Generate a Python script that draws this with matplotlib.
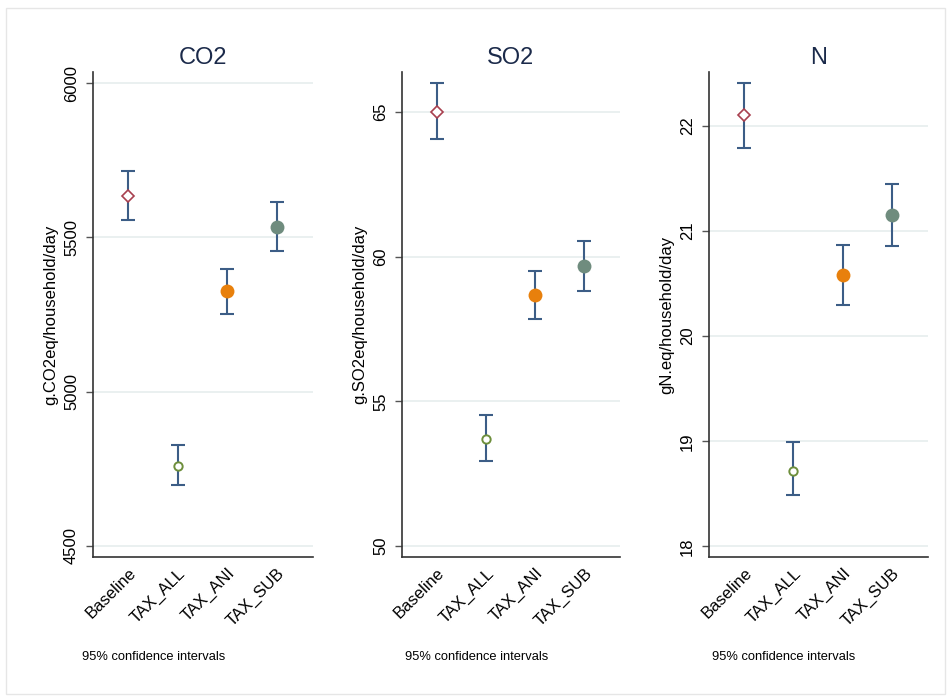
import matplotlib
matplotlib.use("Agg")
import matplotlib.pyplot as plt
from matplotlib.patches import Rectangle

plt.rcParams['font.family'] = ['Liberation Sans', 'DejaVu Sans']

categories = ["Baseline", "TAX_ALL", "TAX_ANI", "TAX_SUB"]

titles = ["CO2", "SO2", "N"]
ylabels = ["g.CO2eq/household/day", "g.SO2eq/household/day", "gN.eq/household/day"]

co2_mean = [5635, 4760, 5326, 5534]
co2_low = [5555, 4697, 5251, 5456]
co2_high = [5715, 4827, 5397, 5614]

so2_mean = [65.0, 53.7, 58.66, 59.66]
so2_low = [64.05, 52.95, 57.83, 58.8]
so2_high = [66.0, 54.52, 59.52, 60.55]

n_mean = [22.10, 18.72, 20.58, 21.15]
n_low = [21.79, 18.49, 20.30, 20.86]
n_high = [22.41, 18.99, 20.87, 21.45]

yticks_list = [[4500, 5000, 5500, 6000], [50, 55, 60, 65], [18, 19, 20, 21, 22]]
ylims = [(4464, 6036), (49.62, 66.38), (17.9, 22.51)]

note = "95% confidence intervals"

means = [co2_mean, so2_mean, n_mean]
lows = [co2_low, so2_low, n_low]
highs = [co2_high, so2_high, n_high]

marker_styles = [
    dict(marker="D", ms=6.5, mfc="white", mec="#a8404f", mew=1.2),
    dict(marker="o", ms=6, mfc="white", mec="#6e8f3c", mew=1.4),
    dict(marker="o", ms=10, mfc="#e8800c", mec="#e8800c", mew=0),
    dict(marker="o", ms=10, mfc="#6f8c7e", mec="#6f8c7e", mew=0),
]
err_color = "#3c5d86"
title_color = "#1b2a4a"

fig = plt.figure(figsize=(9.51, 6.98), dpi=100)
fig.patch.set_facecolor("white")
fig.add_artist(Rectangle((0.006, 0.006), 0.988, 0.983, transform=fig.transFigure,
                         fill=False, edgecolor="#e6e6e6", lw=1))

lefts = [93, 402, 709]
widths = [220, 218, 219]
note_x = [82, 405, 712]
top_px, bot_px = 72, 557
W, H = 951, 698

for i in range(3):
    ax = fig.add_axes([lefts[i] / W, 1 - bot_px / H, widths[i] / W, (bot_px - top_px) / H])
    xs = list(range(1, len(categories) + 1))
    for j, x in enumerate(xs):
        ax.errorbar([x], [means[i][j]],
                    yerr=[[means[i][j] - lows[i][j]], [highs[i][j] - means[i][j]]],
                    fmt="none", ecolor=err_color, elinewidth=1.5, capsize=5, capthick=1.5, zorder=2)
        ax.plot([x], [means[i][j]], linestyle="none", zorder=3, **marker_styles[j])
    ax.set_xlim(0.29, 4.73)
    ax.set_ylim(*ylims[i])
    ax.set_yticks(yticks_list[i])
    ax.set_yticklabels([str(v) for v in yticks_list[i]], rotation=90, va="center", fontsize=12)
    ax.set_xticks(xs)
    ax.set_xticklabels(categories, rotation=45, ha="right", rotation_mode="anchor", fontsize=12)
    ax.tick_params(axis="x", length=0, pad=6)
    ax.tick_params(axis="y", length=5, width=1, color="#555555", pad=5)
    ax.grid(axis="y", color="#e6eded", lw=1.2)
    ax.set_axisbelow(True)
    for s in ["top", "right"]:
        ax.spines[s].set_visible(False)
    for s in ["left", "bottom"]:
        ax.spines[s].set_color("#333333")
        ax.spines[s].set_linewidth(1.2)
    ax.set_title(titles[i], fontsize=17, color=title_color, pad=6)
    ax.set_ylabel(ylabels[i], fontsize=12, labelpad=4)
    fig.text(note_x[i] / W, 1 - 657 / H, note, fontsize=9.3, ha="left", va="center")

fig.savefig("out.png", dpi=100, facecolor="white")
